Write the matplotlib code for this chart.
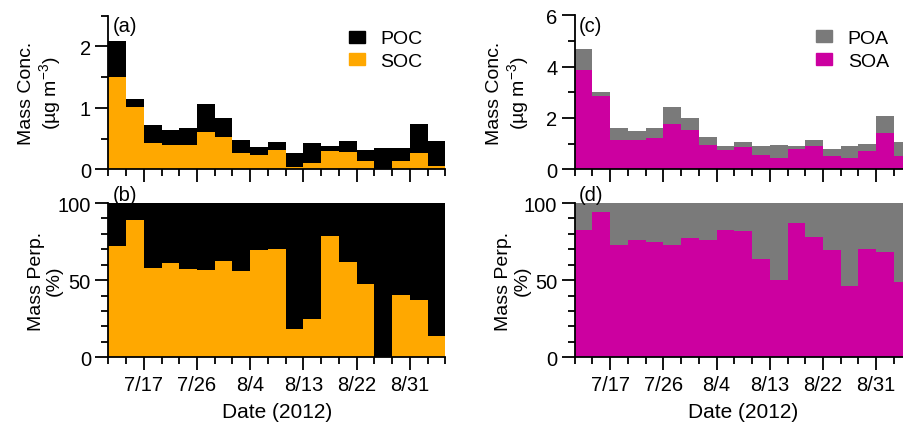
import matplotlib
matplotlib.use("Agg")
import matplotlib.pyplot as plt
import matplotlib.dates as mdates
from matplotlib.ticker import FixedLocator, MultipleLocator, NullFormatter
from matplotlib.patches import Patch
import datetime as dt

plt.rcParams['font.family'] = ['Liberation Sans', 'DejaVu Sans']
plt.rcParams['mathtext.fontset'] = 'custom'
plt.rcParams['mathtext.rm'] = 'Liberation Sans'
plt.rcParams['mathtext.it'] = 'Liberation Sans:italic'
plt.rcParams['mathtext.bf'] = 'Liberation Sans:bold'

# ---- data ----
bin_starts = ["2012-07-11", "2012-07-14", "2012-07-17", "2012-07-20", "2012-07-23",
              "2012-07-26", "2012-07-29", "2012-08-01", "2012-08-04", "2012-08-07",
              "2012-08-10", "2012-08-13", "2012-08-16", "2012-08-19", "2012-08-22",
              "2012-08-25", "2012-08-28", "2012-08-31", "2012-09-03"]
bin_days = 3
x_start = "2012-07-11"
x_end = "2012-09-06"

soc = [1.51, 1.02, 0.42, 0.39, 0.39, 0.61, 0.53, 0.26, 0.24, 0.32,
       0.04, 0.10, 0.30, 0.28, 0.14, 0.00, 0.13, 0.27, 0.06]
oc_total = [2.09, 1.15, 0.72, 0.64, 0.68, 1.07, 0.84, 0.48, 0.36, 0.45,
            0.27, 0.43, 0.375, 0.46, 0.315, 0.34, 0.34, 0.74, 0.46]
poc = [t - s for t, s in zip(oc_total, soc)]

soc_pct = [71.9, 89.0, 57.9, 60.9, 57.2, 56.4, 62.2, 55.7, 69.5, 70.0,
           18.6, 25.0, 78.6, 61.6, 47.3, 0.0, 40.6, 37.1, 14.0]

soa = [3.88, 2.84, 1.16, 1.14, 1.22, 1.77, 1.55, 0.95, 0.75, 0.88,
       0.57, 0.45, 0.78, 0.90, 0.53, 0.43, 0.70, 1.43, 0.53]
oa_total = [4.69, 3.00, 1.60, 1.48, 1.62, 2.42, 2.00, 1.25, 0.91, 1.05,
            0.90, 0.94, 0.90, 1.14, 0.79, 0.92, 0.99, 2.06, 1.08]
poa = [t - s for t, s in zip(oa_total, soa)]

soa_pct = [82.7, 93.9, 72.9, 76.2, 74.9, 72.9, 77.5, 75.8, 82.7, 81.8,
           63.4, 49.8, 87.2, 77.9, 69.5, 46.3, 70.3, 68.4, 48.5]

major_ticks = ["2012-07-17", "2012-07-26", "2012-08-04", "2012-08-13", "2012-08-22", "2012-08-31"]
major_labels = ["7/17", "7/26", "8/4", "8/13", "8/22", "8/31"]

c_soc = "#FFA800"
c_poc = "#000000"
c_soa = "#CC00A0"
c_poa = "#7A7A7A"

# ---- figure ----
W, H = 904, 435
fig = plt.figure(figsize=(W / 100, H / 100), dpi=100)

def d2n(s):
    return mdates.date2num(dt.datetime.strptime(s, "%Y-%m-%d"))

xs = [d2n(s) for s in bin_starts]
x0, x1 = d2n(x_start), d2n(x_end)
maj = [d2n(s) for s in major_ticks]
minor = [x0 + i * 3 for i in range(int((x1 - x0) / 3) + 1)]

def px_axes(left, top, right, bottom):
    return fig.add_axes([left / W, (H - bottom) / H, (right - left) / W, (bottom - top) / H])

axw = 337.0
ax_a = px_axes(108.3, 16.7, 108.3 + axw, 170.3)
ax_b = px_axes(108.3, 204.0, 108.3 + axw, 358.3)
ax_c = px_axes(574.7, 16.3, 574.7 + axw, 170.3)
ax_d = px_axes(574.7, 204.0, 574.7 + axw, 358.3)

FS_TICK = 14.5
FS_YLAB = 14
FS_XLAB = 15
FS_LEG = 14
FS_PANEL = 14.5

def style(ax, show_xlabels):
    for sp in ("top", "right"):
        ax.spines[sp].set_visible(False)
    for sp in ("left", "bottom"):
        ax.spines[sp].set_linewidth(1.3)
    ax.set_xlim(x0, x1)
    ax.xaxis.set_major_locator(FixedLocator(maj))
    ax.xaxis.set_minor_locator(FixedLocator(minor))
    ax.xaxis.set_minor_formatter(NullFormatter())
    if show_xlabels:
        ax.set_xticklabels(major_labels)
    else:
        ax.set_xticklabels([])
    ax.tick_params(axis='both', which='major', direction='out', length=9.5, width=1.3, labelsize=FS_TICK)
    ax.tick_params(axis='both', which='minor', direction='out', length=4.8, width=1.3)
    ax.tick_params(axis='x', which='major', pad=3)
    ax.tick_params(axis='y', which='major', pad=3)
    ax.set_axisbelow(False)

def stacked(ax, lower, upper, c_low, c_up):
    ax.bar(xs, lower, width=bin_days, align='edge', color=c_low, linewidth=0)
    ax.bar(xs, upper, width=bin_days, bottom=lower, align='edge', color=c_up, linewidth=0)

leg_kw = dict(loc='upper right', bbox_to_anchor=(0.955, 0.955), frameon=False, fontsize=FS_LEG,
              handlelength=0.81, handleheight=0.57, handletextpad=0.8, labelspacing=0.3,
              borderaxespad=0)

# (a)
stacked(ax_a, soc, poc, c_soc, c_poc)
ax_a.set_ylim(0, 2.5)
ax_a.yaxis.set_major_locator(FixedLocator([0, 1, 2]))
ax_a.yaxis.set_minor_locator(MultipleLocator(0.5))
style(ax_a, False)
ax_a.set_ylabel("Mass Conc.\n(µg m$^{-3}$)", fontsize=FS_YLAB, linespacing=1.1)
ax_a.legend(handles=[Patch(color=c_poc, label="POC"), Patch(color=c_soc, label="SOC")], **leg_kw)

# (b)
stacked(ax_b, soc_pct, [100 - v for v in soc_pct], c_soc, c_poc)
ax_b.set_ylim(0, 100)
ax_b.yaxis.set_major_locator(FixedLocator([0, 50, 100]))
ax_b.yaxis.set_minor_locator(MultipleLocator(10))
style(ax_b, True)
ax_b.set_ylabel("Mass Perp.\n(%)", fontsize=FS_YLAB, linespacing=1.1)
ax_b.set_xlabel("Date (2012)", fontsize=FS_XLAB, labelpad=6)

# (c)
stacked(ax_c, soa, poa, c_soa, c_poa)
ax_c.set_ylim(0, 6)
ax_c.yaxis.set_major_locator(FixedLocator([0, 2, 4, 6]))
ax_c.yaxis.set_minor_locator(MultipleLocator(1))
style(ax_c, False)
ax_c.set_ylabel("Mass Conc.\n(µg m$^{-3}$)", fontsize=FS_YLAB, linespacing=1.1)
ax_c.legend(handles=[Patch(color=c_poa, label="POA"), Patch(color=c_soa, label="SOA")], **leg_kw)

# (d)
stacked(ax_d, soa_pct, [100 - v for v in soa_pct], c_soa, c_poa)
ax_d.set_ylim(0, 100)
ax_d.yaxis.set_major_locator(FixedLocator([0, 50, 100]))
ax_d.yaxis.set_minor_locator(MultipleLocator(10))
style(ax_d, True)
ax_d.set_ylabel("Mass Perp.\n(%)", fontsize=FS_YLAB, linespacing=1.1)
ax_d.set_xlabel("Date (2012)", fontsize=FS_XLAB, labelpad=6)

for ax in (ax_a, ax_b):
    ax.yaxis.set_label_coords(-0.135, 0.5)
for ax in (ax_c, ax_d):
    ax.yaxis.set_label_coords(-0.131, 0.5)

for ax, lab in ((ax_a, "(a)"), (ax_c, "(c)")):
    ax.text(0.012, 0.995, lab, transform=ax.transAxes, ha='left', va='top', fontsize=FS_PANEL, zorder=5)
for ax, lab in ((ax_b, "(b)"), (ax_d, "(d)")):
    ax.text(0.012, 0.995, lab, transform=ax.transAxes, ha='left', va='bottom', fontsize=FS_PANEL, zorder=5)

fig.savefig("out.png", dpi=100)
